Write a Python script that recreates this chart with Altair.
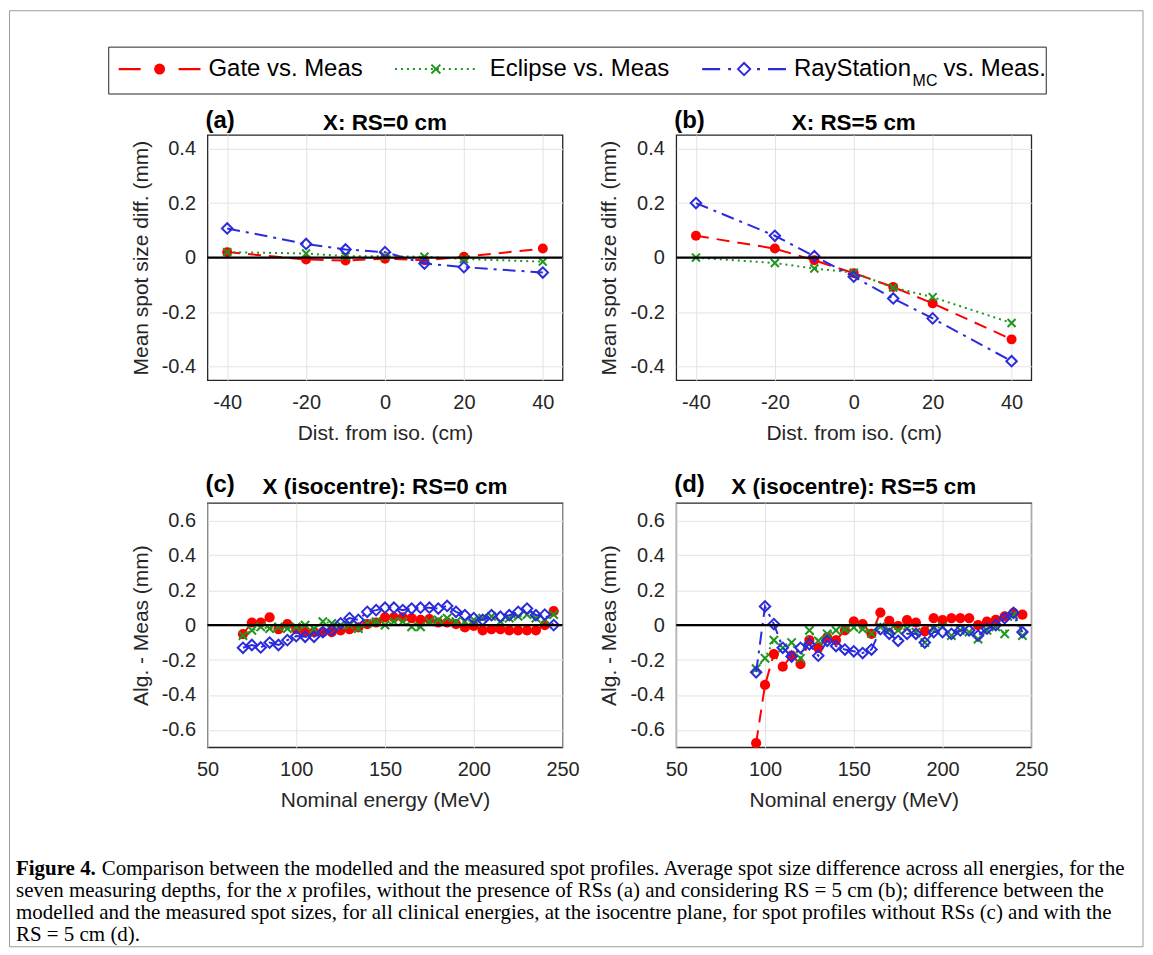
import altair as alt
import pandas as pd

# ---------------- data ----------------
series_names = ["Gate", "Eclipse", "RayStation"]
series_colors = ["#ff0000", "#1f961f", "#2b2bdc"]

dist_cm = [-40, -20, -10, 0, 10, 20, 40]
a_gate = [0.02, -0.007, -0.011, -0.004, -0.010, 0.003, 0.033]
a_eclipse = [0.02, 0.015, 0.005, 0.005, 0.003, -0.005, -0.015]
a_ray = [0.107, 0.050, 0.030, 0.020, -0.022, -0.035, -0.055]

b_gate = [0.080, 0.033, -0.010, -0.057, -0.108, -0.168, -0.300]
b_eclipse = [0.000, -0.020, -0.040, -0.055, -0.110, -0.145, -0.240]
b_ray = [0.200, 0.080, 0.005, -0.070, -0.150, -0.223, -0.380]

energy_c = [70, 75, 80, 85, 90, 95, 100, 105, 110, 115, 120, 125, 130, 135, 140, 145,
            150, 155, 160, 165, 170, 175, 180, 185, 190, 195, 200, 205, 210, 215, 220,
            225, 230, 235, 240, 245]
c_gate = [-0.051, 0.015, 0.015, 0.044, -0.023, 0.006, -0.023, -0.040, -0.040, -0.040,
          -0.040, -0.030, -0.023, -0.013, 0.006, 0.015, 0.044, 0.044, 0.044, 0.040,
          0.030, 0.035, 0.015, 0.015, 0.006, -0.013, -0.005, -0.030, -0.023, -0.023,
          -0.030, -0.030, -0.030, -0.030, 0.000, 0.080]
c_eclipse = [-0.060, -0.030, -0.010, -0.020, -0.010, -0.020, -0.010, 0.000, -0.020, 0.020,
             0.010, 0.000, 0.000, -0.020, 0.010, 0.020, 0.000, 0.020, 0.020, -0.010,
             -0.010, 0.020, 0.030, 0.040, 0.020, 0.020, 0.030, 0.040, 0.050, 0.020,
             0.040, 0.050, 0.060, 0.040, 0.030, 0.060]
c_ray = [-0.130, -0.114, -0.128, -0.100, -0.114, -0.086, -0.063, -0.067, -0.067, -0.040,
         -0.030, 0.010, 0.040, 0.030, 0.076, 0.086, 0.100, 0.100, 0.086, 0.095,
         0.100, 0.100, 0.095, 0.110, 0.076, 0.057, 0.040, 0.030, 0.057, 0.048,
         0.057, 0.076, 0.095, 0.057, 0.060, 0.000]

energy_d = [95, 100, 105, 110, 115, 120, 125, 130, 135, 140, 145, 150, 155, 160, 165,
            170, 175, 180, 185, 190, 195, 200, 205, 210, 215, 220, 225, 230, 235, 240, 245]
d_gate = [-0.676, -0.343, -0.166, -0.238, -0.175, -0.223, -0.086, -0.130, -0.070, -0.086,
          -0.030, 0.021, 0.006, -0.050, 0.072, 0.025, -0.004, 0.028, 0.015, -0.036,
          0.040, 0.028, 0.040, 0.040, 0.040, 0.000, 0.020, 0.030, 0.050, 0.070, 0.060]
d_eclipse = [-0.250, -0.190, -0.086, -0.130, -0.100, -0.190, -0.030, -0.090, -0.050, -0.030,
             -0.023, -0.013, -0.023, -0.048, -0.010, -0.030, -0.030, -0.020, -0.040, -0.100,
             -0.020, -0.010, -0.060, -0.030, -0.040, -0.080, -0.030, -0.010, -0.050, 0.060,
             -0.060]
d_ray = [-0.270, 0.107, 0.006, -0.130, -0.180, -0.130, -0.110, -0.175, -0.090, -0.120,
         -0.140, -0.150, -0.160, -0.140, -0.023, -0.050, -0.090, -0.050, -0.050, -0.100,
         -0.040, -0.040, -0.050, -0.030, -0.030, -0.060, -0.020, 0.000, 0.040, 0.070,
         -0.040]

ticks_dist = [-40, -20, 0, 20, 40]
ticks_ab = [-0.4, -0.2, 0, 0.2, 0.4]
ticks_energy = [50, 100, 150, 200, 250]
ticks_cd = [-0.6, -0.4, -0.2, 0, 0.2, 0.4, 0.6]

caption_bold = "Figure 4."
caption_l1 = "Comparison between the modelled and the measured spot profiles. Average spot size difference across all energies, for the"
caption_l2a = "seven measuring depths, for the"
caption_l2x = "x"
caption_l2b = "profiles, without the presence of RSs (a) and considering RS = 5 cm (b); difference between the"
caption_l3 = "modelled and the measured spot sizes, for all clinical energies, at the isocentre plane, for spot profiles without RSs (c) and with the"
caption_l4 = "RS = 5 cm (d)."

# ---------------- styling ----------------
SANS = "Liberation Sans"
SERIF = "Liberation Serif"
INK = "#262626"
W, H_TOP, H_BOT = 356, 246, 245
XSHAPE = "M-1,-1L1,1M-1,1L1,-1"
dashes = [[13, 8], [2, 4], [13, 6, 3, 6]]
legend_dashes = [[22, 38], [2, 4], [18, 8, 3, 26, 3, 8, 18]]
one = pd.DataFrame({"k": [0]})
CAP = 21


def long_df(x, cols):
    rows = []
    for name, vals in zip(series_names, cols):
        for xv, yv in zip(x, vals):
            rows.append({"x": xv, "y": yv, "series": name})
    return pd.DataFrame(rows)


def txt(s, x, y, size, weight="normal", font=SANS, align="left", baseline="alphabetic", style="normal"):
    return alt.Chart(one).mark_text(
        text=s, font=font, fontSize=size, fontWeight=weight, fontStyle=style,
        align=align, baseline=baseline, color="black"
    ).encode(x=alt.value(x), y=alt.value(y))


def panel(df, xdom, xticks, xtitle, ydom, yticks, ytitle, letter, title, title_y, height, msize, extra=()):
    xenc = alt.X("x:Q", scale=alt.Scale(domain=xdom, nice=False, zero=False),
                 axis=alt.Axis(values=xticks, title=xtitle, labelExpr="'' + datum.value",
                               labelFlush=False))
    yenc = alt.Y("y:Q", scale=alt.Scale(domain=ydom, nice=False, zero=False),
                 axis=alt.Axis(values=yticks, title=ytitle, labelExpr="'' + datum.value"))
    layers = []
    shapes = ["circle", XSHAPE, "diamond"]
    filled = [True, False, False]
    for i, name in enumerate(series_names):
        sub = alt.Chart(df).transform_filter(alt.datum.series == name)
        layers.append(sub.mark_line(color=series_colors[i], strokeWidth=2, strokeDash=dashes[i]).encode(x=xenc, y=yenc))
        if filled[i]:
            layers.append(sub.mark_point(shape=shapes[i], filled=True, fill=series_colors[i],
                                         color=series_colors[i], size=msize[i], opacity=1).encode(x=xenc, y=yenc))
        else:
            layers.append(sub.mark_point(shape=shapes[i], filled=False, color=series_colors[i],
                                         strokeWidth=2, size=msize[i], opacity=1).encode(x=xenc, y=yenc))
    zero = alt.Chart(pd.DataFrame({"z": [0]})).mark_rule(color="black", strokeWidth=2.2).encode(y="z:Q")
    layers.append(zero)
    layers.append(txt(letter, -2, title_y - 2, 24, weight="bold"))
    layers.append(txt(title, W / 2, title_y, 22.5, weight="bold", align="center"))
    layers.extend(extra)
    return alt.layer(*layers).properties(width=W, height=height)


# ---- legend + caption + frame (drawn in panel a's coordinate frame) ----
LY = -66
CX = -192
extra = [
    alt.Chart(one).mark_rect(fill="white", fillOpacity=0, stroke="#9a9a9a", strokeWidth=1).encode(
        x=alt.value(-198.5), x2=alt.value(938), y=alt.value(-124.5), y2=alt.value(814)),
    alt.Chart(one).mark_rect(fill="white", stroke=INK, strokeWidth=1).encode(
        x=alt.value(-99), x2=alt.value(841), y=alt.value(-88), y2=alt.value(-41)),
    alt.Chart(one).mark_rule(color=series_colors[0], strokeWidth=2.2, strokeDash=legend_dashes[0]).encode(
        x=alt.value(-89), x2=alt.value(-7), y=alt.value(LY)),
    alt.Chart(one).mark_point(shape="circle", filled=True, color=series_colors[0], size=120, opacity=1).encode(
        x=alt.value(-48), y=alt.value(LY)),
    txt("Gate vs. Meas", 1, LY, 24, baseline="middle"),
    alt.Chart(one).mark_rule(color=series_colors[1], strokeWidth=2, strokeDash=legend_dashes[1]).encode(
        x=alt.value(188), x2=alt.value(271), y=alt.value(LY)),
    alt.Chart(one).mark_point(shape=XSHAPE, filled=False, color=series_colors[1], strokeWidth=2, size=80, opacity=1).encode(
        x=alt.value(229), y=alt.value(LY)),
    txt("Eclipse vs. Meas", 283, LY, 24, baseline="middle"),
    alt.Chart(one).mark_rule(color=series_colors[2], strokeWidth=2.2, strokeDash=legend_dashes[2]).encode(
        x=alt.value(496), x2=alt.value(580), y=alt.value(LY)),
    alt.Chart(one).mark_point(shape="diamond", filled=False, color=series_colors[2], strokeWidth=2, size=150, opacity=1).encode(
        x=alt.value(538), y=alt.value(LY)),
    txt("RayStation", 588, LY, 24, baseline="middle"),
    txt("MC", 707, LY + 12, 16, baseline="middle"),
    txt("vs. Meas.", 738, LY, 24, baseline="middle"),
    txt(caption_bold, CX, 742, CAP, weight="bold", font=SERIF),
    txt(caption_l1, CX + 86, 742, CAP, font=SERIF),
    txt(caption_l2a, CX, 764, CAP, font=SERIF),
    txt(caption_l2x, CX + 272, 764, CAP, font=SERIF, style="italic"),
    txt(caption_l2b, CX + 287, 764, CAP, font=SERIF),
    txt(caption_l3, CX, 786, CAP, font=SERIF),
    txt(caption_l4, CX, 808, CAP, font=SERIF),
]

pa = panel(long_df(dist_cm, [a_gate, a_eclipse, a_ray]), [-45, 45], ticks_dist, "Dist. from iso. (cm)",
           [-0.45, 0.45], ticks_ab, "Mean spot size diff. (mm)", "(a)", "X: RS=0 cm", -5, H_TOP,
           [100, 64, 110], extra)
pb = panel(long_df(dist_cm, [b_gate, b_eclipse, b_ray]), [-45, 45], ticks_dist, "Dist. from iso. (cm)",
           [-0.45, 0.45], ticks_ab, "Mean spot size diff. (mm)", "(b)", "X: RS=5 cm", -5, H_TOP,
           [100, 64, 110])
pc = panel(long_df(energy_c, [c_gate, c_eclipse, c_ray]), [50, 250], ticks_energy, "Nominal energy (MeV)",
           [-0.7, 0.7], ticks_cd, "Alg. - Meas (mm)", "(c)", "X (isocentre): RS=0 cm", -9, H_BOT,
           [105, 70, 110])
pd_ = panel(long_df(energy_d, [d_gate, d_eclipse, d_ray]), [50, 250], ticks_energy, "Nominal energy (MeV)",
            [-0.7, 0.7], ticks_cd, "Alg. - Meas (mm)", "(d)", "X (isocentre): RS=5 cm", -9, H_BOT,
            [105, 70, 110])

chart = alt.concat(pa, pb, pc, pd_, columns=2, spacing={"row": 123, "column": 114}).properties(
    bounds="flush", padding=0, background="white"
).configure_axis(
    labelFont=SANS, labelFontSize=20, labelColor=INK, titleFont=SANS, titleFontSize=21,
    titleFontWeight="normal", titleColor=INK, grid=True, gridColor="#e3e3e3", gridWidth=1,
    domain=False, ticks=False, labelPadding=12, titlePadding=10
).configure_view(stroke=INK, strokeWidth=1.3)

chart.save("out.html", embed_options={"renderer": "svg", "actions": False})
